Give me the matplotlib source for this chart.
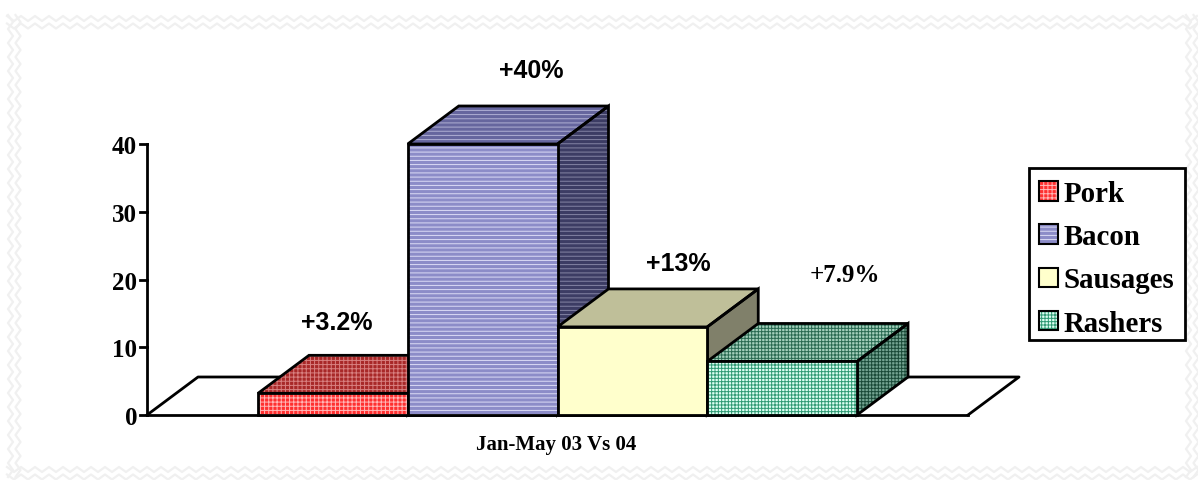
import numpy as np
import matplotlib
matplotlib.use("Agg")
import matplotlib.pyplot as plt
from matplotlib.colors import to_rgba
from matplotlib.patches import Patch, Polygon, Rectangle

categories = ["Pork", "Bacon", "Sausages", "Rashers"]
values = [3.2, 40, 13, 7.9]
bar_labels = ["+3.2%", "+40%", "+13%", "+7.9%"]
y_ticks = [0, 10, 20, 30, 40]
x_title = "Jan-May 03 Vs 04"

# colours per bar: fill, hatch, top fill, top hatch, side fill, side hatch
fills = ["#ff3030", "#8c8cc8", "#ffffcc", "#dcfff2"]
hatch_cols = ["#ffb8b8", "#dcdcf6", "#ffffcc", "#2f9a74"]
top_fills = ["#a82828", "#66669e", "#bfbf99", "#a4d0bc"]
top_hatch = ["#d88080", "#b0b0d4", "#bfbf99", "#2a6a52"]
side_fills = ["#702020", "#3c3c64", "#80806a", "#74a492"]
side_hatch = ["#a05050", "#8484a4", "#80806a", "#1a4a38"]
hatches = ["++++", "----", "", "+++++"]

W, H = 1198, 481
PX_X = 149.75  # pixels per bar
PX_Y = 6.775   # pixels per unit
DX = 51 / PX_X  # depth of the 3d effect in data units
DY = 38 / PX_Y


def px_x(p):
    return (p - 258) / PX_X


def px_y(p):
    return (416 - p) / PX_Y


def hatched(patch, col):
    # hatch colour separate from the outline
    patch._hatch_color = to_rgba(col)
    return patch


plt.rcParams["hatch.linewidth"] = 0.7
fig = plt.figure(figsize=(W / 100, H / 100), dpi=100)
ax = fig.add_axes([0, 0, 1, 1])
ax.set_xlim(px_x(0), px_x(W))
ax.set_ylim(px_y(H), px_y(0))
ax.axis("off")

# zigzag frame
deco = fig.add_axes([0, 0, 1, 1], zorder=-1)
deco.set_xlim(0, W)
deco.set_ylim(H, 0)
deco.axis("off")
frame = dict(color="#f0f0f0", lw=1.6)
for off in (0, 7.5):
    xs = np.arange(7, 1198, 7.0)
    zig = np.where(np.arange(len(xs)) % 2 == 0, 0, 5)
    deco.plot(xs, 17 + off + zig, **frame)
    deco.plot(xs, 468 + off + zig, **frame)
    ys = np.arange(16, 481, 7.0)
    zig = np.where(np.arange(len(ys)) % 2 == 0, 0, 5)
    deco.plot(8 + off + zig, ys, **frame)
    deco.plot(1186 + off + zig, ys, **frame)

# floor
floor_l, floor_r = px_x(147), px_x(968)
ax.plot([floor_l, floor_l + DX, floor_r + DX, floor_r], [0, DY, DY, 0], color="k", lw=2, zorder=1)
ax.plot([floor_l, floor_r], [0, 0], color="k", lw=2, zorder=1)

# y axis
ax.plot([floor_l, floor_l], [0, y_ticks[-1]], color="k", lw=2, zorder=2)
for t in y_ticks:
    ax.plot([px_x(140), floor_l], [t, t], color="k", lw=2, zorder=2)
    ax.text(px_x(137), t, str(t), ha="right", va="center_baseline",
            family="Liberation Serif", weight="bold", fontsize=18)

# bars, left to right so the later ones sit over earlier sides
for i, v in enumerate(values):
    z = 3 + i
    side = [(i + 1, 0), (i + 1 + DX, DY), (i + 1 + DX, v + DY), (i + 1, v)]
    top = [(i, v), (i + DX, v + DY), (i + 1 + DX, v + DY), (i + 1, v)]
    ax.add_patch(hatched(Polygon(side, facecolor=side_fills[i], edgecolor="none", hatch=hatches[i], lw=0, zorder=z), side_hatch[i]))
    ax.add_patch(Polygon(side, fill=False, edgecolor="k", lw=2, zorder=z + 0.1))
    ax.add_patch(hatched(Polygon(top, facecolor=top_fills[i], edgecolor="none", hatch=hatches[i], lw=0, zorder=z), top_hatch[i]))
    ax.add_patch(Polygon(top, fill=False, edgecolor="k", lw=2, zorder=z + 0.1))
    bar = ax.bar(i + 0.5, v, width=1, color=fills[i], edgecolor="k", hatch=hatches[i], lw=2, zorder=z + 0.2)
    hatched(bar[0], hatch_cols[i])

# value labels
label_x = [337, 531, 678, 845]
label_y = [323, 71, 264, 276]
for i, txt in enumerate(bar_labels):
    serif = txt == "+7.9%"
    ax.text(px_x(label_x[i]), px_y(label_y[i]), txt, ha="center", va="center",
            family="Liberation Serif" if serif else "Liberation Sans",
            weight="bold", fontsize=18, zorder=20)

ax.text(px_x(556.5), px_y(445), x_title, ha="center", va="center", family="Liberation Serif",
        weight="bold", fontsize=15)

# legend box drawn on its own so the rows can sit where they should
ax.add_patch(Rectangle((px_x(1029), px_y(341)), px_x(1185) - px_x(1029), px_y(169) - px_y(341),
                       facecolor="white", edgecolor="k", lw=2, zorder=29))
handles = [hatched(Patch(facecolor=fills[i], edgecolor="k", lw=1.5, hatch=hatches[i]), hatch_cols[i])
           for i in range(len(categories))]
leg = ax.legend(handles, categories, loc="upper left", bbox_to_anchor=(1029 / W, 1 - 171 / H),
                bbox_transform=fig.transFigure, frameon=False,
                prop={"family": "Liberation Serif", "weight": "bold", "size": 20.8},
                borderaxespad=0, handlelength=0.66, handleheight=0.66, handletextpad=0.2,
                labelspacing=0.56, borderpad=0.35)
leg.set_zorder(30)

fig.savefig("out.png", dpi=100)
